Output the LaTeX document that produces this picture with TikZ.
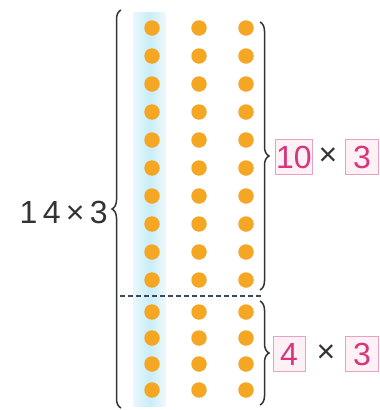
\documentclass[tikz,border=0pt]{standalone}
\usepackage{fontspec}
\setmainfont{Liberation Sans}
\usetikzlibrary{decorations.pathreplacing}
\definecolor{dotor}{HTML}{F5A623}
\definecolor{bandb}{HTML}{C9EDF7}
\definecolor{pinkd}{HTML}{D8357C}
\definecolor{pinkb}{HTML}{E7A2C2}
\definecolor{pinkf}{HTML}{FDF1F6}
\definecolor{braceg}{HTML}{333333}
\definecolor{dashg}{HTML}{3D4A5C}
\begin{document}
\begin{tikzpicture}[x=1pt,y=-1pt,
  dot/.style={circle,fill=dotor,inner sep=0pt,minimum size=15.5pt},
  brc/.style={draw=braceg,line width=1.5pt,decorate,decoration={brace,amplitude=9pt}},
  pbox/.style={draw=pinkb,fill=pinkf,line width=0.9pt,text=pinkd,inner sep=0pt,minimum height=35pt,font=\fontsize{32}{32}\selectfont},
  optxt/.style={text=braceg,inner sep=0pt,font=\fontsize{32}{32}\selectfont}]
\useasboundingbox (0,0) rectangle (380,410);
\shade[left color=bandb!40, right color=bandb!30, middle color=bandb] (133,12) rectangle (166,406);
\foreach \r/\y in {1/28,2/56,3/84,4/112,5/140,6/168,7/196,8/224,9/252,10/280,11/312,12/338,13/364,14/390}
  \foreach \c/\x in {1/152,2/199,3/246}
    \node[dot] (d\r-\c) at (\x,\y) {};
\coordinate (dl) at (120,296);
\coordinate (dr) at (262,296);
\draw[dashg,line width=1.5pt,dash pattern=on 5pt off 3pt] (dl) -- (dr);
\coordinate (lbtop) at (121,10);
\coordinate (lbbot) at (121,408);
\draw[brc] (lbbot) -- (lbtop);
\coordinate (rb1top) at (260,22);
\coordinate (rb1bot) at (260,290);
\draw[brc] (rb1top) -- (rb1bot);
\coordinate (rb2top) at (260,301);
\coordinate (rb2bot) at (260,405);
\draw[brc] (rb2top) -- (rb2bot);
\node[optxt,anchor=east] (lhs) at (108,212) {1\,4\,×\,3};
\node[pbox,minimum width=37pt] (b10) at (294,157) {10};
\node[optxt] (x1) at (328,157) {×};
\node[pbox,minimum width=33pt] (b3a) at (362,157) {3};
\node[pbox,minimum width=32pt] (b4) at (289,354) {4};
\node[optxt] (x2) at (326,354) {×};
\node[pbox,minimum width=33pt] (b3b) at (362,354) {3};
\end{tikzpicture}
\end{document}
